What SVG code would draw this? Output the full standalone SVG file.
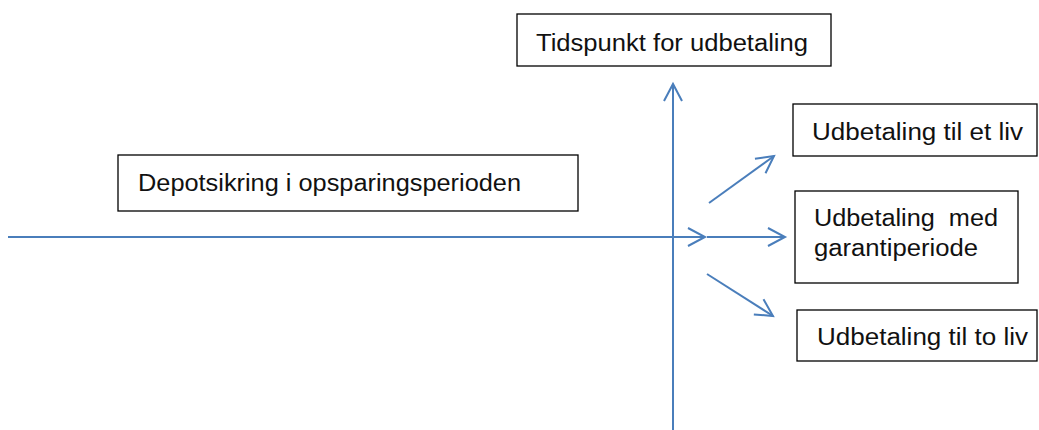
<svg xmlns="http://www.w3.org/2000/svg" width="1039" height="430" viewBox="0 0 1039 430">
<defs>
<style>
.box{fill:#fff;stroke:#000;stroke-width:1.3}
.t{font-family:"Liberation Sans",Arial,sans-serif;font-size:23px;fill:#111}
.c{stroke:#4A7EBB;stroke-width:2;fill:none}
</style>
<marker id="ah" markerUnits="userSpaceOnUse" markerWidth="22" markerHeight="22" refX="19" refY="11" orient="auto">
<path d="M2,2 L19,11 L2,20" fill="none" stroke="#4A7EBB" stroke-width="2"/>
</marker>
</defs>
<rect width="1039" height="430" fill="#fff"/>
<g id="connectors">
<line class="c" x1="673" y1="430" x2="673" y2="84" marker-end="url(#ah)"/>
<line class="c" x1="8" y1="237" x2="705" y2="237" marker-end="url(#ah)"/>
<line class="c" x1="707" y1="237" x2="785" y2="237" marker-end="url(#ah)"/>
<line class="c" x1="709" y1="203" x2="774" y2="156" marker-end="url(#ah)"/>
<line class="c" x1="707" y1="274" x2="773" y2="316" marker-end="url(#ah)"/>
</g>
<g id="n-tidspunkt">
<rect class="box" x="517" y="14" width="314" height="52"/>
<text class="t" x="536" y="51" textLength="272" lengthAdjust="spacingAndGlyphs">Tidspunkt for udbetaling</text>
</g>
<g id="n-depot">
<rect class="box" x="118" y="155" width="460" height="56"/>
<text class="t" x="138" y="191" textLength="383" lengthAdjust="spacingAndGlyphs">Depotsikring i opsparingsperioden</text>
</g>
<g id="n-etliv">
<rect class="box" x="793" y="104" width="244" height="52"/>
<text class="t" x="812" y="140" textLength="211" lengthAdjust="spacingAndGlyphs">Udbetaling til et liv</text>
</g>
<g id="n-garanti">
<rect class="box" x="795" y="191" width="223" height="92"/>
<text class="t" x="814" y="226" textLength="184" lengthAdjust="spacingAndGlyphs" xml:space="preserve">Udbetaling  med</text>
<text class="t" x="814" y="256" textLength="164" lengthAdjust="spacingAndGlyphs">garantiperiode</text>
</g>
<g id="n-toliv">
<rect class="box" x="797" y="310" width="240" height="51"/>
<text class="t" x="817" y="345" textLength="211" lengthAdjust="spacingAndGlyphs">Udbetaling til to liv</text>
</g>
</svg>
